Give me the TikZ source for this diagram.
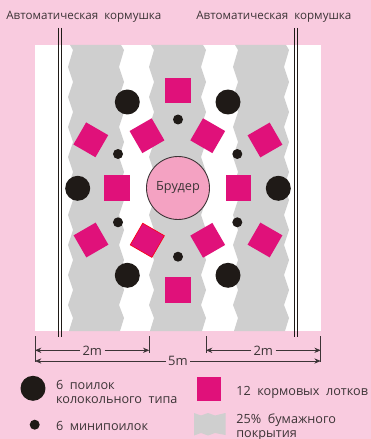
\documentclass[tikz,border=0pt]{standalone}
\usepackage{fontspec}
\setmainfont[WordSpace=2]{Open Sans}
\usetikzlibrary{positioning, arrows.meta}
\definecolor{bgpink}{HTML}{F9CBDF}
\definecolor{trough}{HTML}{E0117A}
\definecolor{litter}{HTML}{CFCFCF}
\definecolor{drinker}{HTML}{1F1A17}
\definecolor{brooder}{HTML}{F4A2C2}
\definecolor{inktext}{HTML}{3C3436}
\newcommand{\downpts}{45/2,50/5,67/0,82/5,97/0,112/5,127/0,142/5,157/0,172/5,187/0,200/5,215/0,230/5,245/0,260/5,275/0,290/5,305/0,318/5,331/1}
\newcommand{\uppts}{331/1,318/5,305/0,290/5,275/0,260/5,245/0,230/5,215/0,200/5,187/0,172/5,157/0,142/5,127/0,112/5,97/0,82/5,67/0,50/5,45/2}

\begin{document}
\begin{tikzpicture}[x=0.02cm, y=-0.02cm,
    bell/.style={circle, fill=drinker, inner sep=0pt, minimum size=0.5cm},
    mini/.style={circle, fill=drinker, inner sep=0pt, minimum size=0.2cm},
    feed/.style={rectangle, fill=trough, inner sep=0pt, minimum size=0.51cm},
    toplabel/.style={anchor=base west, inner sep=0pt, text=inktext, font=\fontsize{6.6}{7.6}\selectfont},
    keylabel/.style={anchor=base west, inner sep=0pt, text=inktext, font=\fontsize{7.2}{8}\selectfont},
    size/.style={text=inktext, inner sep=1.2pt, font=\fontsize{7.4}{8}\selectfont},
    dim/.style={-{Stealth[length=3.6pt, width=3pt]}, draw=inktext, line width=0.4pt},
    tick/.style={draw=inktext, line width=0.4pt},
    rail/.style={draw=drinker, line width=0.35pt}]
    \useasboundingbox (0,0) rectangle (371,439);
    \fill[bgpink] (0,0) rectangle (371,439);
    \fill[white] (35,45) rectangle (321,331);

    \foreach \l/\r in {68/119,149/201,233/284} {
        \fill[litter] (\l+2,45) foreach \y/\o in \downpts { -- (\l+\o,\y) }
            foreach \y/\o in \uppts { -- (\r+\o,\y) } -- cycle;
    }

    \foreach \x in {58.5,61,294.5,297} {
        \draw[rail] (\x,28) -- (\x,337);
    }

    \node[circle, draw=inktext, fill=brooder, line width=0.5pt, inner sep=0pt, minimum size=1.26cm, text=inktext, font=\fontsize{7.2}{8}\selectfont] (bruder) at (178,188) {Брудер};

    \foreach \n/\x/\y in {a/127.3/102,b/228/102,c/77.7/188.3,d/278.3/188.3,e/127.3/275.3,f/228/275.3} {
        \node[bell] (bell\n) at (\x,\y) {};
    }
    \foreach \n/\x/\y in {a/178/119.5,b/118/154,c/237.3/154,d/118/222.3,e/237.3/222.3,f/178/256.7} {
        \node[mini] (mini\n) at (\x,\y) {};
    }
    \foreach \n/\x/\y in {a/178/90.3,b/117/188,c/238.5/188,d/178/290} {
        \node[feed] (feed\n) at (\x,\y) {};
    }
    \foreach \n/\x/\y/\a in {e/90.8/139.8/-30,f/147/135.7/30,g/207.7/135.7/-30,h/265/140/30,i/91/240/30,k/207.7/240.3/30,l/265/240/-30} {
        \node[feed, rotate=\a] (feed\n) at (\x,\y) {};
    }
    \node[feed, rotate=-30, draw=red!80!trough, line width=0.4pt, minimum size=0.5cm] (feedj) at (147.3,240.3) {};

    \node[toplabel] (feederl) at (6,20) {Автоматическая кормушка};
    \node[toplabel] (feederr) at (196,20) {Автоматическая кормушка};

    \coordinate (la) at (35,336);
    \coordinate (lb) at (35,362);
    \coordinate (ma) at (149.3,336);
    \coordinate (mb) at (149.3,353);
    \coordinate (na) at (206,336);
    \coordinate (nb) at (206,353);
    \coordinate (ra) at (320.7,336);
    \coordinate (rb) at (320.7,362);
    \draw[tick] (la) -- (lb);
    \draw[tick] (ma) -- (mb);
    \draw[tick] (na) -- (nb);
    \draw[tick] (ra) -- (rb);

    \node[size] (twol) at (92.3,350.3) {2m};
    \node[size] (twor) at (263.3,350.3) {2m};
    \node[size] (five) at (178,361) {5m};
    \draw[dim] (twol) -- (twol -| la);
    \draw[dim] (twol) -- (twol -| ma);
    \draw[dim] (twor) -- (twor -| na);
    \draw[dim] (twor) -- (twor -| ra);
    \draw[dim] (five) -- (five -| la);
    \draw[dim] (five) -- (five -| ra);

    \node[bell] (keybell) at (33,388.3) {};
    \node[mini] (keymini) at (34.7,424.7) {};
    \node[feed, minimum size=0.48cm] (keyfeed) at (209,389) {};
    \fill[litter] (194,413) -- (201,415.5) -- (208,413) -- (215,415.5) -- (225.5,413) -- (225.5,435) -- (215,433) -- (208,435.5) -- (201,433) -- (194,435.5) -- cycle;

    \node[keylabel] (keya) at (55.7,389) {6 поилок};
    \node[keylabel] (keyb) at (55.7,403) {колокольного типа};
    \node[keylabel] (keyc) at (55.7,430) {6 минипоилок};
    \node[keylabel] (keyd) at (236,395) {12 кормовых лотков};
    \node[keylabel] (keye) at (236,423) {25\% бумажного};
    \node[keylabel] (keyf) at (236,437) {покрытия};
\end{tikzpicture}
\end{document}
